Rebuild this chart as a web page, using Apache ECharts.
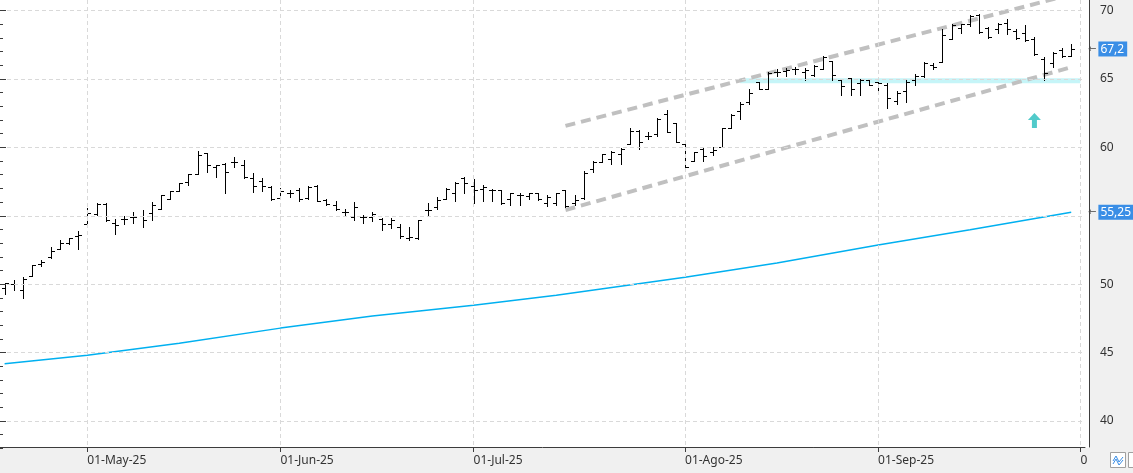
<!DOCTYPE html>
<html>
<head>
<meta charset="utf-8">
<script src="https://cdn.jsdelivr.net/npm/echarts@6/dist/echarts.min.js"></script>
<style>
  html, body { margin: 0; padding: 0; background: #fff; }
  #chart { width: 1133px; height: 473px; }
</style>
</head>
<body>
<div id="chart"></div>
<script>
// trading days shown on the axis (Apr 16 .. Oct 1 2025, market holidays skipped)
var firstDay = '2025-04-16';
var lastDay = '2025-10-01';
var holidays = ['2025-04-18', '2025-04-21', '2025-05-01'];
var monthNames = ['Ene', 'Feb', 'Mar', 'Abr', 'May', 'Jun', 'Jul', 'Ago', 'Sep', 'Oct', 'Nov', 'Dic'];

var opens = [
  49.7, 50.0, 49.6, 50.6, 51.5, 51.95, 52.6, 53.0, 53.55, 54.4,
  55.1, 55.85, 54.5, 54.75, 54.9, 54.95, 55.2, 55.5, 56.2, 56.8,
  57.45, 58.05, 59.6, 58.55, 58.8, 58.9, 58.7, 57.75, 57.55, 57.1,
  56.3, 56.65, 56.9, 56.3, 57.2, 56.15, 55.8, 55.3, 54.9, 54.9,
  54.9, 54.75, 54.4, 54.2, 53.35, 53.35, 55.4, 55.65, 56.2, 56.7,
  57.75, 57.2, 56.95, 56.9, 56.85, 56.2, 56.5, 56.45, 56.65, 55.9,
  55.95, 56.85, 55.9, 56.3, 58.45, 58.95, 59.15, 59.55, 60.25, 61.2,
  60.8, 61.0, 62.45, 61.8, 60.25, 59.0, 59.9, 59.7, 60.05, 61.45,
  62.65, 63.35, 64.75, 64.3, 65.5, 65.6, 65.7, 65.5, 65.3, 65.7,
  66.35, 64.95, 65.05, 64.7, 64.9, 64.75, 64.6, 63.4, 64.15, 64.95,
  65.2, 66.0, 66.25, 67.95, 68.7, 69.0, 69.7, 68.7, 68.65, 69.1,
  68.55, 68.4, 67.9, 66.45, 66.15, 67.1, 66.65
];
var highs = [
  50.1, 50.3, 50.5, 51.4, 51.75, 52.7, 53.2, 53.4, 53.9, 55.55,
  55.9, 55.9, 54.75, 55.0, 55.3, 55.4, 56.0, 56.5, 56.8, 57.4,
  58.05, 59.75, 59.6, 58.72, 58.85, 59.3, 59.1, 58.1, 57.75, 57.2,
  57.0, 56.9, 57.0, 57.2, 57.25, 56.2, 56.1, 55.5, 56.0, 55.05,
  55.3, 54.8, 54.8, 54.4, 54.2, 54.7, 55.9, 56.35, 57.05, 57.5,
  57.8, 57.7, 57.25, 56.95, 56.85, 56.65, 56.7, 56.7, 56.7, 56.5,
  56.7, 56.85, 56.5, 58.3, 59.0, 59.55, 59.75, 59.95, 61.45, 61.25,
  61.1, 62.15, 62.7, 61.8, 60.25, 59.7, 60.0, 60.0, 61.45, 62.45,
  63.3, 64.25, 64.8, 65.5, 65.7, 65.8, 65.9, 65.8, 66.0, 66.65,
  66.35, 65.0, 65.05, 65.0, 65.0, 64.8, 64.7, 64.15, 64.95, 65.35,
  66.25, 66.15, 68.65, 69.0, 69.0, 69.7, 69.75, 68.8, 69.1, 69.4,
  68.65, 68.95, 68.05, 66.6, 66.95, 67.3, 67.6
];
var lows = [
  49.3, 49.6, 49.0, 50.6, 51.3, 51.9, 52.6, 52.9, 52.6, 54.15,
  55.05, 54.6, 53.7, 54.4, 54.45, 54.2, 54.7, 55.5, 56.2, 56.8,
  57.25, 58.05, 58.2, 57.8, 56.7, 58.55, 57.75, 56.75, 56.8, 56.15,
  56.2, 56.4, 56.1, 56.2, 56.1, 55.75, 55.4, 55.05, 54.7, 54.45,
  54.65, 53.95, 54.1, 53.4, 53.2, 53.3, 55.05, 55.5, 56.2, 56.1,
  56.7, 55.95, 56.1, 56.1, 55.85, 55.8, 55.8, 56.2, 56.15, 55.7,
  55.8, 55.65, 55.8, 56.2, 58.2, 58.9, 58.8, 58.8, 60.25, 59.9,
  60.6, 60.8, 61.1, 60.4, 58.6, 59.0, 59.0, 59.45, 60.05, 61.45,
  62.1, 63.2, 64.25, 64.3, 65.2, 65.2, 65.4, 64.9, 65.2, 65.7,
  64.95, 63.85, 63.85, 63.85, 64.55, 64.2, 62.85, 63.2, 63.35, 64.55,
  65.15, 65.7, 66.25, 67.95, 68.4, 68.9, 68.4, 68.0, 68.35, 68.3,
  67.9, 67.75, 66.75, 64.95, 65.9, 66.6, 66.65
];
var closes = [
  50.1, 50.0, 50.4, 51.4, 51.65, 52.4, 53.0, 53.35, 53.6, 55.2,
  55.85, 54.7, 54.3, 54.75, 54.9, 54.7, 55.8, 56.5, 56.8, 57.4,
  58.05, 59.45, 58.7, 58.7, 58.2, 58.95, 57.8, 57.2, 57.2, 56.2,
  56.8, 56.65, 56.2, 57.1, 56.1, 55.85, 55.5, 55.25, 55.65, 54.9,
  55.1, 54.4, 54.7, 53.5, 53.45, 54.7, 55.45, 56.15, 56.95, 57.4,
  57.4, 56.9, 57.1, 56.9, 55.9, 56.65, 56.5, 56.65, 56.2, 56.4,
  56.7, 55.7, 56.15, 58.1, 58.95, 59.5, 59.7, 59.9, 61.2, 60.4,
  60.8, 62.1, 61.1, 60.4, 58.6, 59.65, 59.4, 59.8, 61.4, 62.35,
  63.2, 64.0, 64.25, 65.45, 65.5, 65.65, 65.7, 65.65, 65.95, 66.6,
  65.3, 64.5, 64.3, 64.95, 64.6, 64.7, 63.6, 64.0, 64.8, 65.25,
  66.2, 65.85, 68.2, 68.95, 69.0, 69.6, 68.45, 68.05, 69.0, 68.65,
  68.0, 67.85, 66.85, 65.45, 66.9, 66.65, 67.2
];

// moving average, read at a few bars: [bar index, value]
var maPoints = [
  [0, 44.18], [9, 44.8], [19, 45.68], [30, 46.78], [40, 47.66], [51, 48.46],
  [60, 49.18], [74, 50.5], [84, 51.55], [95, 52.86], [105, 53.97], [116, 55.25]
];
// channel drawn on the chart: [bar index, value]
var upperChannel = [[61, 61.57], [117, 71.36]];
var lowerChannel = [[61, 55.42], [116, 65.87]];
var supportLine = [[80, 64.87], [117, 64.87]];
var arrowMark = [[112, 61.97]];

var yTicks = [40, 70];      // labelled range of the price scale
var yMinorLow = [38, 40];   // extra minor ticks under 40

// ---- layout (pixels) ----
var W = 1133, H = 473;
var PLOT_RIGHT = 48;
var PLOT_H = 447;
var PX = 13.67;        // pixels per price unit
var Y70 = 10.7;        // pixel row of the 70 tick

var dates = [];
(function () {
  var d = new Date(firstDay + 'T12:00:00Z');
  var end = new Date(lastDay + 'T12:00:00Z');
  while (d <= end) {
    var s = d.toISOString().slice(0, 10);
    var wd = d.getUTCDay();
    if (wd !== 0 && wd !== 6 && holidays.indexOf(s) < 0) dates.push(s);
    d.setUTCDate(d.getUTCDate() + 1);
  }
})();

function monthStart(i) {
  return i > 0 && dates[i].slice(5, 7) !== dates[i - 1].slice(5, 7);
}

var ohlc = opens.map(function (o, i) {
  return [i, o, highs[i], lows[i], closes[i]];
});

var tagValues = [closes[closes.length - 1], maPoints[maPoints.length - 1][1]];

var chart = echarts.init(document.getElementById('chart'), null, { renderer: 'canvas' });

var yMin0 = 70 - (PLOT_H - Y70) / PX;
var yMax0 = 70 + Y70 / PX;
var font = 'Noto Sans';

function gridAt(top, height) {
  return { left: 0, right: PLOT_RIGHT, top: top, height: height, containLabel: false, outerBoundsMode: 'none' };
}

chart.setOption({
  backgroundColor: '#ffffff',
  animation: false,
  textStyle: { fontFamily: font },
  grid: [
    gridAt(0, PLOT_H),
    gridAt(Y70 + (70 - yTicks[1]) * PX, (yTicks[1] - yTicks[0]) * PX),
    gridAt(Y70 + (70 - yMinorLow[1]) * PX, (yMinorLow[1] - yMinorLow[0]) * PX)
  ],
  xAxis: [
    {
      type: 'category',
      gridIndex: 0,
      data: dates,
      z: 10,
      axisLine: { show: true, lineStyle: { color: '#3c3c3c', width: 1 } },
      axisTick: {
        show: true, alignWithLabel: true, length: 5,
        interval: function (i) { return monthStart(i); },
        lineStyle: { color: '#3c3c3c' }
      },
      axisLabel: {
        show: true, align: 'left', margin: 8, hideOverlap: false,
        interval: function (i) { return monthStart(i); },
        color: '#333', fontSize: 12, fontFamily: font,
        formatter: function (v) { return '01-' + monthNames[+v.slice(5, 7) - 1] + '-' + v.slice(2, 4); }
      },
      splitLine: {
        show: true, alignWithLabel: true,
        interval: function (i) { return monthStart(i); },
        lineStyle: { color: '#d9d9d9', type: [4, 3], width: 1 }
      }
    },
    { type: 'value', gridIndex: 1, show: false },
    { type: 'value', gridIndex: 2, show: false }
  ],
  yAxis: [
    {
      type: 'value', gridIndex: 0, position: 'right', offset: 4,
      min: yMin0, max: yMax0, z: 10,
      axisLine: { show: true, lineStyle: { color: '#3c3c3c' } },
      axisTick: { show: false }, axisLabel: { show: false }, splitLine: { show: false }
    },
    {
      type: 'value', gridIndex: 1, position: 'right', offset: 4,
      min: yTicks[0], max: yTicks[1], interval: 5, z: 10,
      axisLine: { show: false },
      axisTick: { show: true, length: 6, lineStyle: { color: '#3c3c3c' } },
      minorTick: { show: true, splitNumber: 5, length: 3, lineStyle: { color: '#3c3c3c' } },
      axisLabel: {
        show: true, margin: 11, color: '#333', fontSize: 12, fontFamily: font,
        // a price tag sits on top of the label it overlaps
        formatter: function (v) {
          for (var k = 0; k < tagValues.length; k++) {
            if (Math.abs(v - tagValues[k]) < 1) return '';
          }
          return String(v);
        }
      },
      splitLine: { show: true, lineStyle: { color: '#d9d9d9', type: [4, 3], width: 1 } },
      minorSplitLine: { show: false }
    },
    {
      type: 'value', gridIndex: 2, position: 'right', offset: 4,
      min: yMinorLow[0], max: yMinorLow[1], interval: 1, z: 10,
      axisLine: { show: false },
      axisTick: { show: true, length: 3, lineStyle: { color: '#3c3c3c' } },
      axisLabel: { show: false }, splitLine: { show: false }
    }
  ],
  series: [
    {
      name: 'soporte',
      type: 'line',
      data: supportLine,
      showSymbol: false, silent: true, z: 1,
      lineStyle: { color: '#c6f5f8', width: 5 }
    },
    {
      name: 'media',
      type: 'line',
      data: maPoints,
      showSymbol: false, silent: true, z: 2,
      lineStyle: { color: '#00b0f0', width: 1.5 }
    },
    {
      // price tags on the right scale
      name: 'etiquetas',
      type: 'line',
      data: [],
      clip: false, silent: true, z: 30,
      markLine: {
        z: 30,
        symbol: 'none', silent: true,
        lineStyle: { color: 'rgba(0,0,0,0)', width: 1 },
        label: {
          show: true, position: 'end', distance: 3,
          formatter: function (p) {
            return '{a|\u2190}{b|' + String(p.value).replace('.', ',') + '}';
          },
          rich: {
            a: { color: '#444', fontSize: 10, fontFamily: 'DejaVu Sans', padding: [0, 2, 0, 0] },
            b: { color: '#fff', backgroundColor: '#3a8ee6', fontSize: 12, fontFamily: font, padding: [2, 3, 1, 2] }
          }
        },
        data: tagValues.map(function (v) { return { yAxis: v }; })
      }
    },
    {
      name: 'canal sup',
      type: 'line',
      data: upperChannel,
      showSymbol: false, silent: true, z: 3,
      lineStyle: { color: '#c0c0c0', width: 4, type: [10, 6] }
    },
    {
      name: 'canal inf',
      type: 'line',
      data: lowerChannel,
      showSymbol: false, silent: true, z: 3,
      lineStyle: { color: '#c0c0c0', width: 4, type: [10, 6] }
    },
    {
      name: 'precio',
      type: 'custom',
      data: ohlc,
      z: 5,
      encode: { x: 0, y: [1, 2, 3, 4] },
      renderItem: function (params, api) {
        var i = api.value(0);
        var o = api.coord([i, api.value(1)]);
        var h = api.coord([i, api.value(2)]);
        var l = api.coord([i, api.value(3)]);
        var c = api.coord([i, api.value(4)]);
        var x = Math.round(o[0]) + 0.5;
        var st = { stroke: '#000', lineWidth: 1 };
        return {
          type: 'group',
          children: [
            { type: 'line', shape: { x1: x, y1: Math.round(h[1]), x2: x, y2: Math.round(l[1]) + 1 }, style: st },
            { type: 'line', shape: { x1: x - 3.5, y1: Math.round(o[1]) + 0.5, x2: x, y2: Math.round(o[1]) + 0.5 }, style: st },
            { type: 'line', shape: { x1: x, y1: Math.round(c[1]) + 0.5, x2: x + 3.5, y2: Math.round(c[1]) + 0.5 }, style: st }
          ]
        };
      }
    },
    {
      name: 'flecha',
      type: 'scatter',
      data: arrowMark,
      z: 6, silent: true,
      symbol: 'path://M6.5,0 L13,7 L9,7 L9,15 L4,15 L4,7 L0,7 Z',
      symbolSize: [13, 15],
      itemStyle: { color: '#26bdbd' }
    }
  ],
  graphic: [
    { type: 'rect', z: -1, silent: true, shape: { x: W - PLOT_RIGHT + 4, y: 0, width: PLOT_RIGHT, height: PLOT_H + 1 }, style: { fill: '#f0f0f0' } },
    { type: 'rect', z: -1, silent: true, shape: { x: 0, y: PLOT_H + 1, width: W, height: H - PLOT_H - 1 }, style: { fill: '#f0f0f0' } },
    { type: 'rect', z: 20, silent: true, shape: { x: W - PLOT_RIGHT + 2, y: PLOT_H + 2, width: PLOT_RIGHT, height: H - PLOT_H - 2 }, style: { fill: '#f0f0f0' } },
    { type: 'rect', z: 21, silent: true, shape: { x: 1110.5, y: 452.5, width: 15, height: 15 }, style: { fill: '#fff', stroke: '#a0a0a0', lineWidth: 1 } },
    { type: 'polyline', z: 22, silent: true, shape: { points: [[1113, 461], [1116, 456], [1119, 462], [1123, 457]] }, style: { stroke: '#3a8ee6', lineWidth: 1, fill: null } },
    { type: 'polyline', z: 22, silent: true, shape: { points: [[1113, 464], [1116, 459], [1119, 465], [1123, 460]] }, style: { stroke: '#3a8ee6', lineWidth: 1, fill: null } },
    { type: 'rect', z: 21, silent: true, shape: { x: 1128.5, y: 452.5, width: 8, height: 15 }, style: { fill: '#fff', stroke: '#a0a0a0', lineWidth: 1 } }
  ]
});
</script>
</body>
</html>
